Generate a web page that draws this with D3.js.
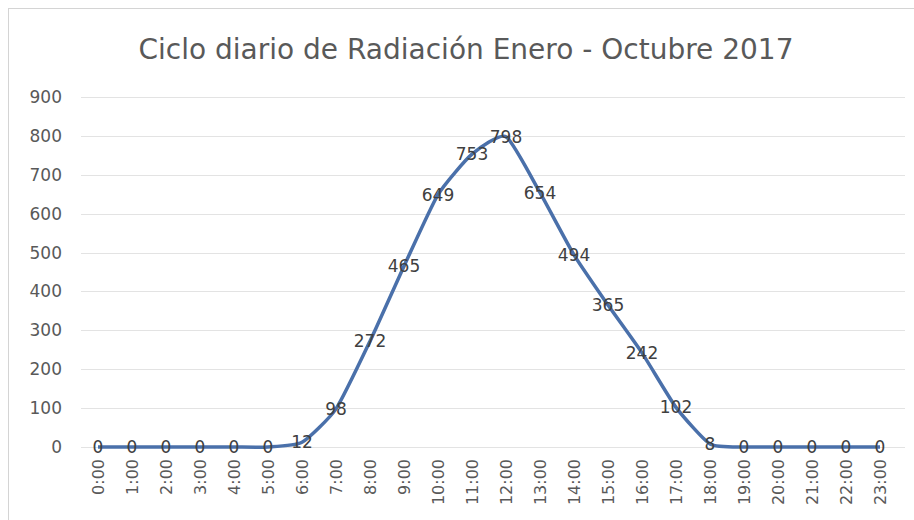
<!DOCTYPE html>
<meta charset="utf-8">
<style>
  body { margin: 0; background: #fff; }
  text { font-family: "DejaVu Sans", sans-serif; }
</style>
<script src="https://d3js.org/d3.v7.min.js"></script>
<div id="chart"></div>
<script>

var hours = ["0:00","1:00","2:00","3:00","4:00","5:00","6:00","7:00","8:00","9:00","10:00","11:00",
             "12:00","13:00","14:00","15:00","16:00","17:00","18:00","19:00","20:00","21:00","22:00","23:00"]
var radiation = [0,0,0,0,0,0,12,98,272,465,649,753,798,654,494,365,242,102,8,0,0,0,0,0]
var yTicks = [0,100,200,300,400,500,600,700,800,900]

var width = 914
    height = 520
    margin = {top: 97, right: 17, bottom: 73, left: 81}

var svg = d3.select("#chart")
  .append("svg")
    .attr("width", width)
    .attr("height", height)

// chart frame
svg.append("rect")
  .attr("x", 8.5).attr("y", 8.5)
  .attr("width", 930).attr("height", 540)
  .attr("fill", "none")
  .attr("stroke", "#d4d4d4")

svg.append("text")
  .attr("x", 466)
  .attr("y", 59)
  .attr("text-anchor", "middle")
  .style("font-size", "28px")
  .style("fill", "#595959")
  .text("Ciclo diario de Radiación Enero - Octubre 2017")

var x = d3.scaleBand()
  .domain(hours)
  .range([margin.left, width - margin.right])

var y = d3.scaleLinear()
  .domain([0, 900])
  .range([height - margin.bottom, margin.top])

// gridlines
svg.append("g")
  .selectAll("line")
  .data(yTicks)
  .enter()
  .append("line")
    .attr("x1", margin.left)
    .attr("x2", width - margin.right + 8)
    .attr("y1", function(d){ return Math.round(y(d)) + 0.5 })
    .attr("y2", function(d){ return Math.round(y(d)) + 0.5 })
    .attr("stroke", "#e3e3e3")
    .attr("stroke-width", 1)

// y axis labels
var yAxis = svg.append("g")
  .attr("transform", "translate(" + (margin.left - 19) + ",0)")
  .call(d3.axisLeft(y).tickValues(yTicks).tickSize(0).tickPadding(0))
yAxis.select(".domain").remove()
yAxis.selectAll("text")
  .style("font-size", "17px")
  .style("fill", "#595959")
  .style("font-family", "DejaVu Sans, sans-serif")

// x axis labels (rotated)
var xAxis = svg.append("g")
  .attr("transform", "translate(0," + (height - margin.bottom) + ")")
  .call(d3.axisBottom(x).tickSize(0).tickPadding(0))
xAxis.select(".domain").remove()
xAxis.selectAll("text")
  .attr("transform", "rotate(-90)")
  .attr("text-anchor", "end")
  .attr("x", -12)
  .attr("y", 0)
  .attr("dy", "0.35em")
  .style("font-size", "16px")
  .style("fill", "#595959")
  .style("font-family", "DejaVu Sans, sans-serif")

var line = d3.line()
  .x(function(d, i){ return x(hours[i]) + x.bandwidth() / 2 })
  .y(function(d){ return y(d) })
  .curve(d3.curveCardinal.tension(0.45))

svg.append("path")
  .datum(radiation)
  .attr("d", line)
  .attr("fill", "none")
  .attr("stroke", "#4a70aa")
  .attr("stroke-width", 3.5)
  .attr("stroke-linejoin", "round")

// data labels centered on points
svg.append("g")
  .selectAll("text")
  .data(radiation)
  .enter()
  .append("text")
    .attr("x", function(d, i){ return x(hours[i]) + x.bandwidth() / 2 })
    .attr("y", function(d){ return y(d) })
    .attr("dy", "0.35em")
    .attr("text-anchor", "middle")
    .style("font-size", "17px")
    .style("fill", "#404040")
    .text(function(d){ return d })

</script>
